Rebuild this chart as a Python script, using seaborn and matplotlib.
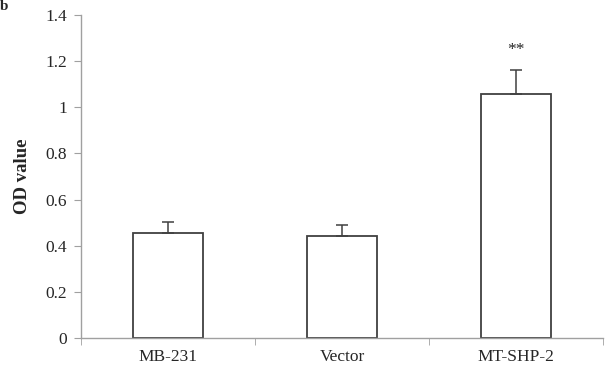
import matplotlib
matplotlib.use("Agg")
import matplotlib.pyplot as plt
import numpy as np
import pandas as pd
import seaborn as sns

# data
groups = ["MB-231", "Vector", "MT-SHP-2"]
od_mean = [0.455, 0.443, 1.058]
od_err = [0.048, 0.045, 0.105]
marks = ["", "", "**"]

sns.set_style("white")
plt.rcParams['font.family'] = ['Liberation Serif', 'DejaVu Serif']

df = pd.DataFrame({"group": groups, "od": od_mean})

fig = plt.figure(figsize=(6.13, 3.70), dpi=100)
ax = fig.add_axes([81 / 613, 32 / 370, 522 / 613, 323 / 370])

sns.barplot(data=df, x="group", y="od", order=groups, color="white",
            edgecolor="#404040", linewidth=1.3, width=0.4, ax=ax)

pos = np.arange(len(groups))
ax.errorbar(pos, od_mean, yerr=[np.zeros(len(od_err)), od_err], fmt="none",
            ecolor="#404040", elinewidth=1.1, capsize=4.5, capthick=1.1)

for p, m, e, s in zip(pos, od_mean, od_err, marks):
    if s:
        ax.text(p, m + e + 0.05, s, ha="center", va="bottom", fontsize=12.5)

ax.set_ylim(0, 1.4)
ax.set_xlim(-0.5, len(groups) - 0.5)
ax.set_yticks(np.arange(0, 1.41, 0.2))
ax.set_yticklabels(["0", "0.2", "0.4", "0.6", "0.8", "1", "1.2", "1.4"])
ax.set_xticks(pos)
ax.set_xticks(np.arange(-0.5, len(groups), 1.0), minor=True)
ax.tick_params(axis="x", which="major", length=0, labelsize=12.5, pad=8)
ax.tick_params(axis="x", which="minor", length=5, color="#a0a0a0", direction="out", bottom=True)
ax.tick_params(axis="y", which="major", length=5, color="#a0a0a0", direction="out",
               left=True, labelsize=12.5, pad=5)

for side in ["top", "right"]:
    ax.spines[side].set_visible(False)
for side in ["left", "bottom"]:
    ax.spines[side].set_color("#a0a0a0")
    ax.spines[side].set_linewidth(1.0)

ax.set_xlabel("")
ax.set_ylabel("OD value", fontsize=13.5, fontweight="bold", labelpad=10)

fig.text(0.0, 1.0, "b", fontsize=11, fontweight="bold", ha="left", va="top")

plt.savefig("out.png", dpi=100)
